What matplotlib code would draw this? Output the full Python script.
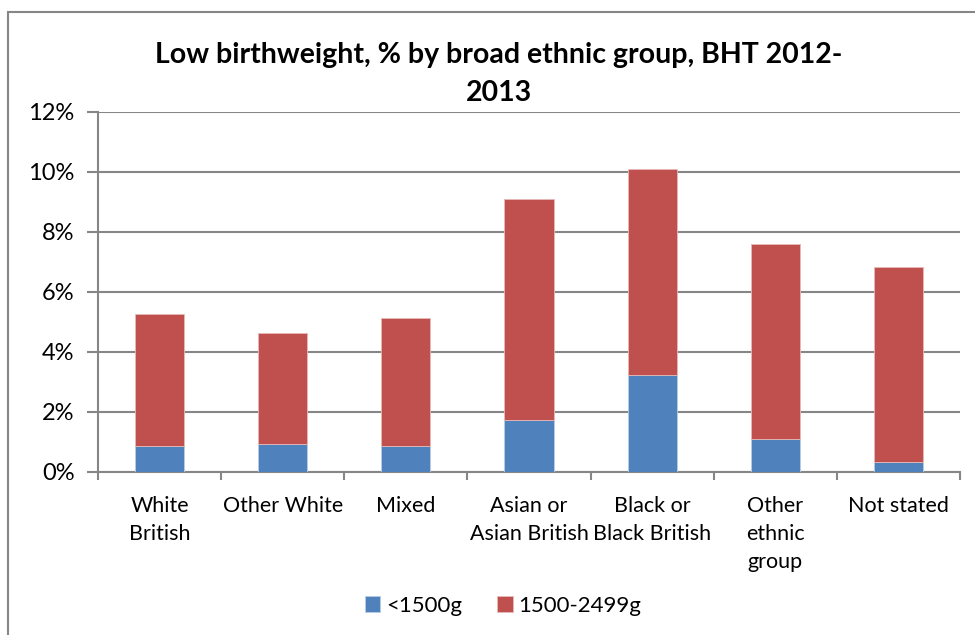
"""Low birthweight by broad ethnic group (BHT 2012-2013), stacked bars."""

import matplotlib

matplotlib.use("Agg")
import matplotlib.pyplot as plt
from matplotlib.patches import Rectangle
from matplotlib.ticker import FixedLocator, FuncFormatter

# ---------------------------------------------------------------------------
# Data (percent of births)
# ---------------------------------------------------------------------------
categories = [
    "White\nBritish",
    "Other White",
    "Mixed",
    "Asian or\nAsian British",
    "Black or\nBlack British",
    "Other\nethnic\ngroup",
    "Not stated",
]
under_1500 = [0.87, 0.93, 0.87, 1.73, 3.23, 1.09, 0.32]
from_1500_to_2499 = [4.40, 3.70, 4.26, 7.37, 6.88, 6.52, 6.51]
series_labels = ["<1500g", "1500-2499g"]
y_ticks = [0, 2, 4, 6, 8, 10, 12]

TITLE = "Low birthweight, % by broad ethnic group, BHT 2012-\n2013"
BLUE = "#4F81BD"
RED = "#C0504D"
GRID = "#868686"

plt.rcParams["font.family"] = ["Lato", "DejaVu Sans"]

fig = plt.figure(figsize=(9.75, 6.35), dpi=100)
ax = fig.add_axes([98 / 975, 163 / 635, 862 / 975, 360 / 635])

x = list(range(len(categories)))
width = 0.4
ax.bar(x, under_1500, width, color=BLUE, edgecolor="#B9CDE5", linewidth=0.6,
       label=series_labels[0], zorder=3)
ax.bar(x, from_1500_to_2499, width, bottom=under_1500, color=RED,
       edgecolor="#E6B9B8", linewidth=0.6, label=series_labels[1], zorder=3)

ax.set_xlim(-0.5, len(categories) - 0.5)
ax.set_ylim(0, 12)
ax.yaxis.set_major_locator(FixedLocator(y_ticks))
ax.yaxis.set_major_formatter(FuncFormatter(lambda v, _: f"{v:.0f}%"))
ax.grid(axis="y", color=GRID, linewidth=1.5, zorder=0)

ax.set_xticks(x)
ax.set_xticklabels(categories, fontsize=15.5, linespacing=1.5)
ax.set_xticks([i - 0.5 for i in range(len(categories) + 1)], minor=True)
ax.tick_params(axis="x", which="major", length=0, pad=17)
ax.tick_params(axis="x", which="minor", length=6, width=1.5, color=GRID)
ax.tick_params(axis="y", length=8, width=1.5, color=GRID, labelsize=17, pad=9)

for side in ["top", "right"]:
    ax.spines[side].set_visible(False)
for side in ["left", "bottom"]:
    ax.spines[side].set_color(GRID)
    ax.spines[side].set_linewidth(1.5)

fig.text(499 / 975, 1 - 74 / 635, TITLE, ha="center", va="center",
         fontsize=20.5, fontweight="bold", linespacing=1.55)

ax.legend(loc="center", bbox_to_anchor=(503 / 975, 1 - 606 / 635),
          bbox_transform=fig.transFigure, ncol=2, frameon=False, fontsize=16,
          handlelength=0.7, handleheight=0.7, handletextpad=0.25,
          columnspacing=1.6)

# outer chart frame (extends past the right and bottom edges of the image)
fig.patches.append(Rectangle((8 / 975, -0.2), 1.2, 1.2 - 12 / 635,
                             transform=fig.transFigure, fill=False,
                             edgecolor=GRID, linewidth=1.5))

fig.savefig("out.png", dpi=100)
plt.close(fig)
